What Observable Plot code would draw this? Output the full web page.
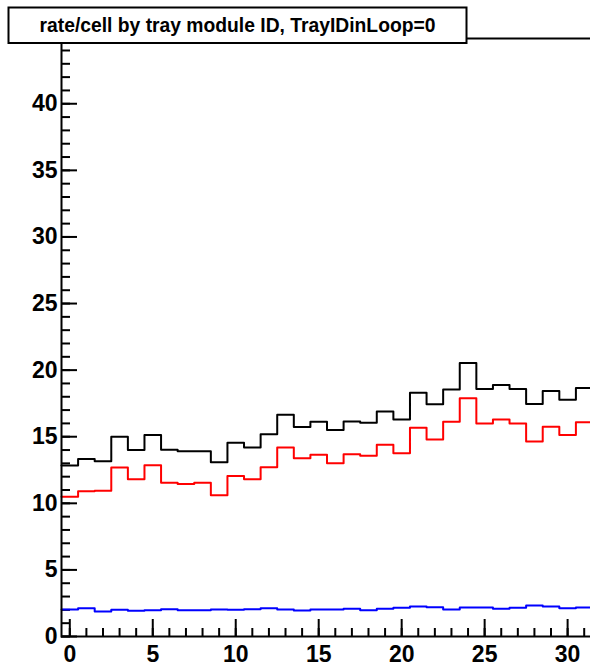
<!DOCTYPE html>
<html><head><meta charset="utf-8">
<script src="https://cdn.jsdelivr.net/npm/d3@7"></script>
<script src="https://cdn.jsdelivr.net/npm/@observablehq/plot@0.6"></script>
<style>body{margin:0;background:#fff} svg{display:block}</style>
</head><body><div id="chart"></div>
<script>
const moduleIds = d3.range(32);
const rateAll = [12.83,13.33,13.15,15.0,14.0,15.13,14.03,13.9,13.9,13.08,14.55,14.2,15.18,16.65,15.73,16.13,15.5,16.15,16.05,16.9,16.3,18.3,17.43,18.55,20.53,18.58,18.88,18.58,17.45,18.43,17.78,18.65];
const rateRed = [10.5,10.9,10.95,12.68,11.8,12.85,11.55,11.45,11.55,10.6,12.05,11.8,12.7,14.2,13.38,13.65,13.0,13.68,13.58,14.4,13.75,15.68,14.8,16.13,17.88,16.0,16.3,16.0,14.65,15.75,15.13,16.08];
const rateBlue = [2.03,2.13,1.88,2.0,1.93,1.98,2.05,1.98,1.98,2.03,2.0,2.05,2.13,2.03,1.95,2.03,2.03,2.08,1.98,2.08,2.15,2.25,2.2,2.03,2.18,2.18,2.08,2.15,2.33,2.25,2.13,2.18];
const xMajorTicks = [0,5,10,15,20,25,30];
const xMinorTicks = d3.range(0,32);
const yMajorTicks = [0,5,10,15,20,25,30,35,40];
const yMinorTicks = d3.range(0,45);
const titleText = "rate/cell by tray module ID, TrayIDinLoop=0";

function steps(values){
  const rows = values.map((v,i)=>({x: moduleIds[i]-0.5, y: v}));
  rows.push({x: moduleIds[moduleIds.length-1]+0.5, y: values[values.length-1]});
  return rows;
}

const font = "'Liberation Sans', Arial, Helvetica, sans-serif";
const chart = Plot.plot({
  width: 590, height: 666,
  marginLeft: 61, marginRight: -2, marginTop: 38, marginBottom: 30,
  style: {fontFamily: font, fontWeight: "bold", fontSize: "23px", background: "#fff", color: "#000"},
  x: {domain: [-0.5, 31.5], label: null},
  y: {domain: [0, 44.9], label: null},
  marks: [
    Plot.axisX(xMinorTicks, {tickSize: -8, text: null, strokeWidth: 2}),
    Plot.axisX(xMajorTicks, {tickSize: -17, text: null, strokeWidth: 2}),
    Plot.axisX(xMajorTicks, {tickSize: 0, tickPadding: 9, fontSize: 23, fontWeight: "bold"}),
    Plot.axisY(yMinorTicks, {tickSize: -9, text: null, strokeWidth: 2}),
    Plot.axisY(yMajorTicks, {tickSize: -16, text: null, strokeWidth: 2}),
    Plot.axisY(yMajorTicks, {tickSize: 0, tickPadding: 4, fontSize: 23, fontWeight: "bold"}),
    Plot.line(steps(rateAll), {x: "x", y: "y", curve: "step-after", stroke: "black", strokeWidth: 2}),
    Plot.line(steps(rateRed), {x: "x", y: "y", curve: "step-after", stroke: "#ff0000", strokeWidth: 2}),
    Plot.line(steps(rateBlue), {x: "x", y: "y", curve: "step-after", stroke: "#0000ff", strokeWidth: 2}),
    Plot.frame({stroke: "black", strokeWidth: 2})
  ]
});
const svg = d3.select(chart);
const g = svg.append("g");
g.append("rect").attr("x", 8.5).attr("y", 7.5).attr("width", 458).attr("height", 35.5)
  .attr("fill", "#fff").attr("stroke", "#000").attr("stroke-width", 2);
g.append("text").attr("x", 237.5).attr("y", 32).attr("text-anchor", "middle")
  .attr("font-family", font).attr("font-weight", "bold").attr("font-size", "19.3px")
  .attr("fill", "#000").text(titleText);
document.getElementById("chart").append(chart);
</script>
</body></html>
